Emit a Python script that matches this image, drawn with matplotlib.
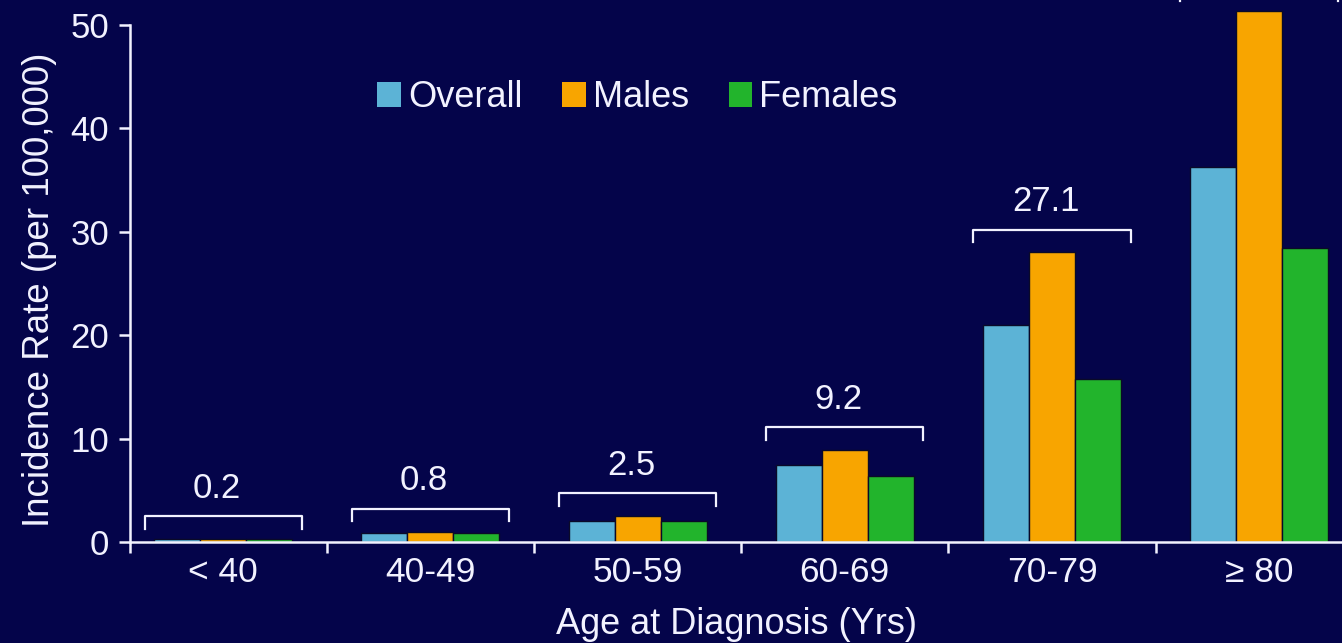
import numpy as np
import matplotlib
matplotlib.use("Agg")
import matplotlib.pyplot as plt
from matplotlib.patches import Patch

plt.rcParams['font.family'] = ['Liberation Sans', 'DejaVu Sans']

# Incidence per 100,000 by age band
age_groups = ["< 40", "40-49", "50-59", "60-69", "70-79", "\u2265 80"]
overall = [0.3, 0.9, 2.0, 7.4, 21.0, 36.3]
males = [0.3, 1.0, 2.5, 8.9, 28.0, 51.3]
females = [0.3, 0.9, 2.0, 6.4, 15.8, 28.4]
group_rates = ["0.2", "0.8", "2.5", "9.2", "27.1", None]

series_names = ["Overall", "Males", "Females"]
series_colors = ["#5cb3d6", "#f8a500", "#22b42c"]

bg = "#04044a"
fg = "#f2f2ff"

fig = plt.figure(figsize=(13.42, 6.43), dpi=100, facecolor=bg)
ax = fig.add_axes([130 / 1342, 101 / 643, 1212 / 1342, 542 / 643])
ax.set_facecolor(bg)

x = np.arange(len(age_groups))
w = 0.222
for j, (vals, col) in enumerate(zip([overall, males, females], series_colors)):
    ax.bar(x + (j - 1) * w, vals, width=w, color=col,
           edgecolor="#0a0a28", linewidth=1.0, zorder=2)

# brackets over each age group with the group rate
for i, rate in enumerate(group_rates):
    top = max(overall[i], males[i], females[i]) + 2.2
    half = 0.38
    ax.plot([x[i] - half, x[i] - half, x[i] + half, x[i] + half],
            [top - 1.2, top, top, top - 1.2], color=fg, lw=1.6, zorder=3)
    if rate is not None:
        ax.text(x[i] - 0.03, top + 1.8, rate, ha="center", va="baseline",
                fontsize=25, color=fg)

ax.set_xlim(-0.45, 5.40)
ax.set_ylim(0, 52.4)

for side in ["top", "right"]:
    ax.spines[side].set_visible(False)
for side in ["left", "bottom"]:
    ax.spines[side].set_color(fg)
    ax.spines[side].set_linewidth(1.8)
ax.spines["left"].set_bounds(0, 50)

ax.set_yticks(np.arange(0, 51, 10))
ax.tick_params(axis="y", colors=fg, labelcolor=fg, labelsize=25,
               length=8, width=1.8, pad=7)

# boundary ticks between age bands, labels at band centres
ax.set_xticks([-0.45, 0.5, 1.5, 2.5, 3.5, 4.5])
ax.set_xticklabels([])
ax.set_xticks(x, minor=True)
ax.set_xticklabels(age_groups, minor=True)
ax.tick_params(axis="x", which="major", colors=fg, length=8, width=1.8)
ax.tick_params(axis="x", which="minor", length=0, labelcolor=fg,
               labelsize=25.5, pad=10)

ax.set_xlabel("Age at Diagnosis (Yrs)", fontsize=26, color=fg, labelpad=13)
ax.set_ylabel("Incidence Rate (per 100,000)", fontsize=26.5, color=fg)
ax.yaxis.set_label_coords(-0.06, 0.465)

handles = [Patch(facecolor=c, edgecolor="none", label=n)
           for n, c in zip(series_names, series_colors)]
leg = fig.legend(handles=handles, loc="center", bbox_to_anchor=(0.475, 0.848),
                 ncol=3, frameon=False, fontsize=26, handlelength=0.65,
                 handleheight=0.7, handletextpad=0.2, columnspacing=1.1)
for t in leg.get_texts():
    t.set_color(fg)

fig.savefig("out.png", dpi=100, facecolor=bg)
